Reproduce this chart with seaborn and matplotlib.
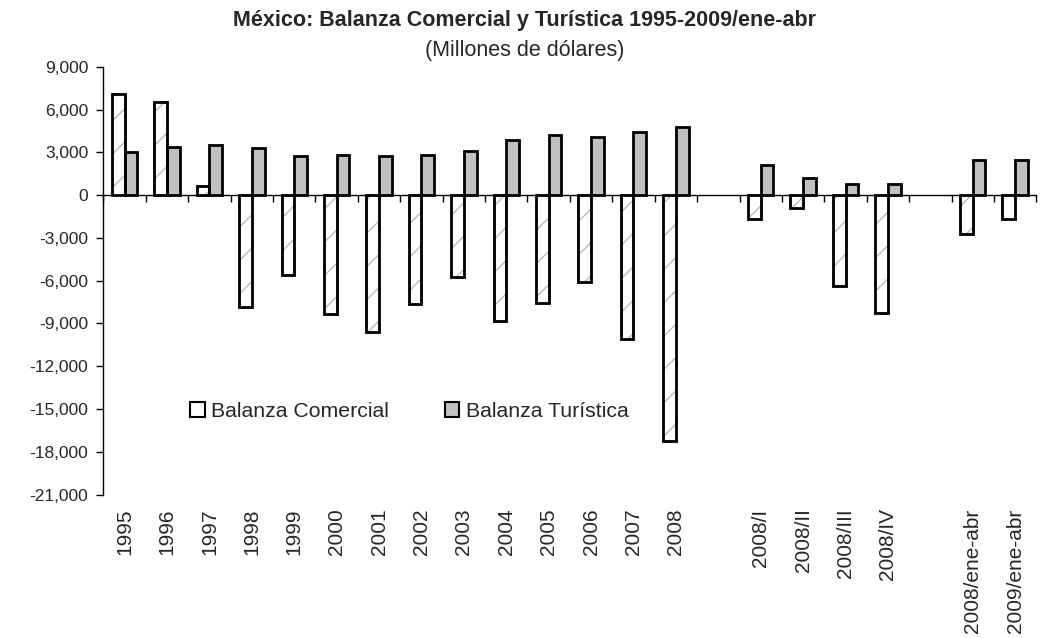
import numpy as np
import pandas as pd
import seaborn as sns
import matplotlib.pyplot as plt
from matplotlib.patches import Patch, Rectangle
from matplotlib.ticker import FuncFormatter

# datos (millones de dólares)
periodos = ['1995', '1996', '1997', '1998', '1999', '2000', '2001', '2002',
            '2003', '2004', '2005', '2006', '2007', '2008',
            '2008/I', '2008/II', '2008/III', '2008/IV',
            '2008/ene-abr', '2009/ene-abr']
comercial = [7090, 6530, 620, -7830, -5630, -8340, -9620, -7630,
             -5780, -8810, -7590, -6130, -10070, -17260,
             -1650, -890, -6400, -8270,
             -2730, -1700]
turistica = [2990, 3360, 3480, 3290, 2710, 2800, 2710, 2800,
             3100, 3830, 4180, 4060, 4440, 4740,
             2080, 1170, 800, 800,
             2430, 2430]
series = ['Balanza Comercial', 'Balanza Turística']
y_ticks = list(range(-21000, 9001, 3000))

# huecos entre grupos de periodos
orden = periodos[:14] + [' '] + periodos[14:18] + ['  '] + periodos[18:]

df = pd.DataFrame({
    'periodo': periodos * 2,
    'serie': [series[0]] * len(periodos) + [series[1]] * len(periodos),
    'valor': comercial + turistica,
})

sns.set_style('white')
plt.rcParams['font.family'] = ['Liberation Sans', 'DejaVu Sans']
plt.rcParams['hatch.linewidth'] = 1.0

fig = plt.figure(figsize=(10.41, 6.38), dpi=100)
ax = fig.add_axes([0.0994, 0.2249, 0.8961, 0.6705])

colores = {series[0]: 'white', series[1]: '#c0c0c0'}
sns.barplot(data=df, x='periodo', y='valor', hue='serie', order=orden,
            hue_order=series, palette=colores, width=0.6, saturation=1,
            edgecolor='black', linewidth=2, errorbar=None, legend=False, ax=ax)

# rayado gris claro en la balanza comercial, con contorno negro encima
for p in list(ax.patches):
    if p.get_facecolor()[:3] == (1.0, 1.0, 1.0):
        p.set_hatch('/')
        p.set_edgecolor('#bbbbbb')
        ax.add_patch(Rectangle(p.get_xy(), p.get_width(), p.get_height(),
                               fill=False, edgecolor='black', lw=2,
                               zorder=p.get_zorder() + 0.1))

ax.set_ylim(-21000, 9000)
ax.set_xlim(-0.5, len(orden) - 0.5)
ax.set_yticks(y_ticks)
ax.yaxis.set_major_formatter(FuncFormatter(lambda v, _: f'{v:,.0f}'))
ax.tick_params(axis='y', direction='out', length=5, width=1, color='black',
               labelsize=12.5, pad=6, left=True)

ax.set_xticks(range(len(orden)))
ax.set_xticklabels([o.strip() for o in orden], rotation=90, fontsize=15)
ax.tick_params(axis='x', length=0, pad=10)
ax.set_xlabel('')
ax.set_ylabel('')

for s in ['top', 'right', 'bottom']:
    ax.spines[s].set_visible(False)
ax.spines['left'].set_color('black')
ax.spines['left'].set_linewidth(1)

# eje horizontal en cero con marcas entre categorías
ymin, ymax = ax.get_ylim()
eje0 = ax.secondary_xaxis(-ymin / (ymax - ymin))
eje0.set_xticks(np.arange(len(orden) + 1) - 0.5)
eje0.tick_params(axis='x', direction='in', length=5, width=1, color='black',
                 labeltop=False, labelbottom=False)
for s in eje0.spines.values():
    s.set_color('black')
    s.set_linewidth(1)

handles = [Patch(facecolor='white', edgecolor='black', lw=1.5, label=series[0]),
           Patch(facecolor='#c0c0c0', edgecolor='black', lw=1.5, label=series[1])]
ax.legend(handles=handles, ncol=2, frameon=False, loc='center left',
          bbox_to_anchor=(0.093, 0.195), handlelength=0.7, handleheight=0.7,
          handletextpad=0.3, columnspacing=2.6, fontsize=15.3,
          borderaxespad=0, borderpad=0)

fig.text(0.504, 0.96, 'México: Balanza Comercial y Turística 1995-2009/ene-abr',
         ha='center', va='baseline', fontsize=15.5, fontweight='bold')
fig.text(0.504, 0.912, '(Millones de dólares)',
         ha='center', va='baseline', fontsize=15.5)

fig.savefig('out.png', dpi=100)
